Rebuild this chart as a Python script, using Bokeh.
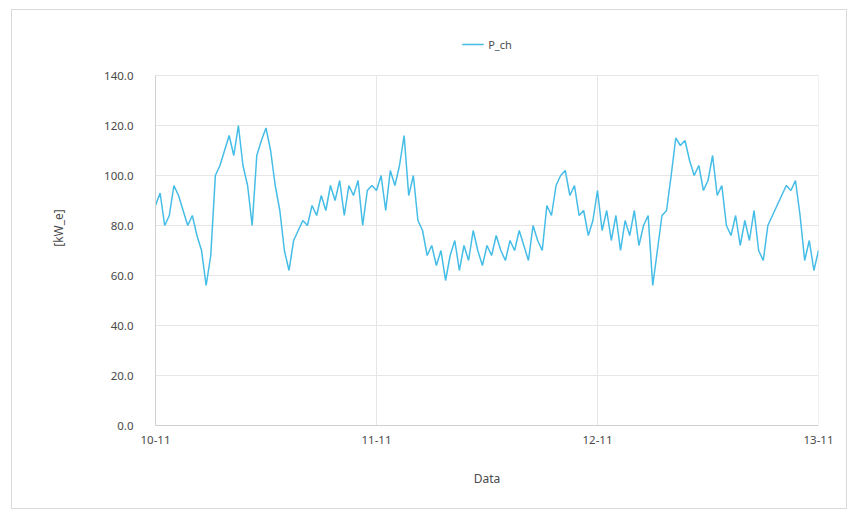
import pandas as pd
from bokeh.plotting import figure
from bokeh.models import (FixedTicker, NumeralTickFormatter, DatetimeTickFormatter,
                          Legend, LegendItem, Range1d)
from bokeh.embed import file_html
from bokeh.resources import INLINE

# Charging power, half-hourly samples from 10-11 00:00 to 13-11 00:00
start = "2015-11-10 00:00"
step = "30min"
p_ch = [
    88, 93, 80, 84, 96, 92, 86, 80, 84, 76, 70, 56,
    68, 100, 104, 110, 116, 108, 120, 104, 96, 80, 108, 114,
    119, 110, 96, 86, 70, 62, 74, 78, 82, 80, 88, 84,
    92, 86, 96, 90, 98, 84, 96, 92, 98, 80, 94, 96,
    94, 100, 86, 102, 96, 104, 116, 92, 100, 82, 78, 68,
    72, 64, 70, 58, 68, 74, 62, 72, 66, 78, 70, 64,
    72, 68, 76, 70, 66, 74, 70, 78, 72, 66, 80, 74,
    70, 88, 84, 96, 100, 102, 92, 96, 84, 86, 76, 82,
    94, 78, 86, 74, 84, 70, 82, 76, 86, 72, 80, 84,
    56, 70, 84, 86, 100, 115, 112, 114, 106, 100, 104, 94,
    98, 108, 92, 96, 80, 76, 84, 72, 82, 74, 86, 70,
    66, 80, 84, 88, 92, 96, 94, 98, 84, 66, 74, 62, 70,
]
day_ticks = ["2015-11-10", "2015-11-11", "2015-11-12", "2015-11-13"]
y_ticks = [0, 20, 40, 60, 80, 100, 120, 140]
y_min, y_max = 0, 140

times = pd.date_range(start, periods=len(p_ch), freq=step)
tick_ms = [pd.Timestamp(d).value // 10**6 for d in day_ticks]

FONT = "Noto Sans"
TXT = "#4a4a4a"
GRID = "#e6e6e6"

# The frame reaches above the value axis so the legend can sit inside it
p = figure(width=836, height=500, x_axis_type="datetime",
           output_backend="svg", toolbar_location=None,
           min_border_left=143, min_border_right=30,
           min_border_top=20, min_border_bottom=85,
           x_range=Range1d(tick_ms[0], tick_ms[-1]),
           y_range=Range1d(y_min, y_max + 18),
           styles={"border": "1px solid #d9d9d9", "margin-left": "11px",
                   "margin-top": "9px"})
p.outline_line_color = None
p.background_fill_color = "white"
p.border_fill_color = "white"

# vertical day grid lines, limited to the value axis span
p.segment(x0=tick_ms, x1=tick_ms, y0=[y_min] * len(tick_ms),
          y1=[y_max] * len(tick_ms), line_color=GRID, line_width=1)

line = p.line(times, p_ch, line_color="#45bde6", line_width=1.5)

p.xaxis.ticker = FixedTicker(ticks=tick_ms)
p.xaxis.formatter = DatetimeTickFormatter(days="%d-%m", months="%d-%m",
                                          hours="%d-%m")
p.yaxis.ticker = FixedTicker(ticks=y_ticks)
p.yaxis.formatter = NumeralTickFormatter(format="0.0")
p.yaxis.bounds = (y_min, y_max)

for ax in (p.xaxis[0], p.yaxis[0]):
    ax.major_tick_line_color = None
    ax.minor_tick_line_color = None
    ax.axis_line_color = "#d0d0d0"
    ax.major_label_text_font = FONT
    ax.major_label_text_font_size = "11.5px"
    ax.major_label_text_color = TXT
    ax.axis_label_text_font = FONT
    ax.axis_label_text_font_size = "12px"
    ax.axis_label_text_color = TXT
    ax.axis_label_text_font_style = "normal"

p.xaxis.axis_label = "Data"
p.yaxis.axis_label = "[kW_e]"
p.xaxis.major_label_standoff = 4
p.yaxis.major_label_standoff = 16
p.xaxis.axis_label_standoff = 23
p.yaxis.axis_label_standoff = 34

p.xgrid.visible = False
p.ygrid.ticker = FixedTicker(ticks=y_ticks)
p.ygrid.grid_line_color = GRID

legend = Legend(items=[LegendItem(label="P_ch", renderers=[line])],
                location="top_center", orientation="horizontal",
                border_line_color=None, background_fill_alpha=0,
                label_text_font=FONT, label_text_font_size="11px",
                label_text_color=TXT, glyph_width=22, padding=4,
                margin=4)
p.add_layout(legend, "center")

open("out.html", "w").write(file_html(p, INLINE))
